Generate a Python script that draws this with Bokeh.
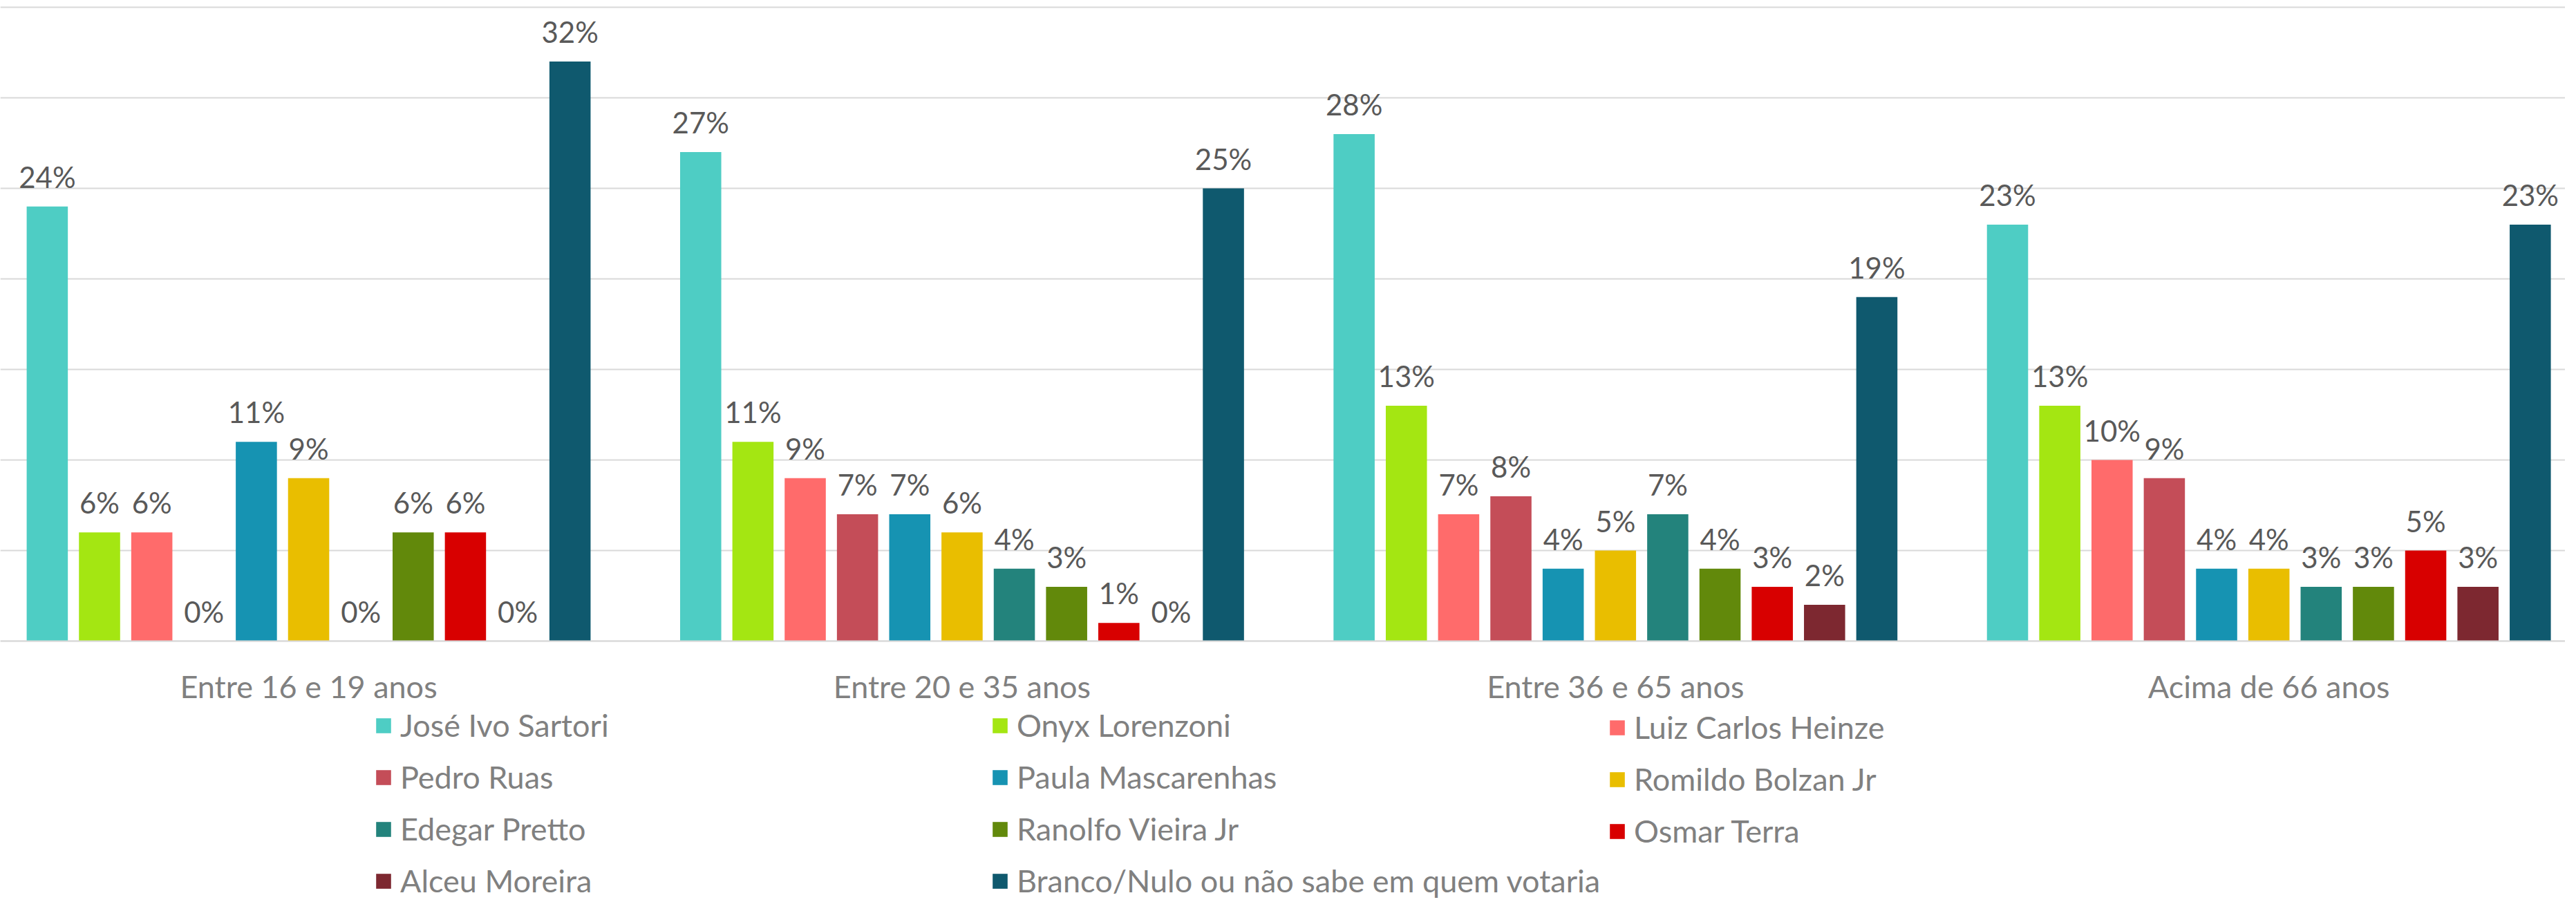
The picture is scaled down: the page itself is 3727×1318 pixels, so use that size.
from bokeh.plotting import figure
from bokeh.models import ColumnDataSource, Range1d, FixedTicker, Legend, LegendItem
from bokeh.core.properties import value
from bokeh.embed import file_html
from bokeh.resources import INLINE

# ---- data ----
groups = ["Entre 16 e 19 anos", "Entre 20 e 35 anos", "Entre 36 e 65 anos", "Acima de 66 anos"]
candidates = ["José Ivo Sartori", "Onyx Lorenzoni", "Luiz Carlos Heinze", "Pedro Ruas",
              "Paula Mascarenhas", "Romildo Bolzan Jr", "Edegar Pretto", "Ranolfo Vieira Jr",
              "Osmar Terra", "Alceu Moreira", "Branco/Nulo ou não sabe em quem votaria"]
jose_ivo_sartori = [24, 27, 28, 23]
onyx_lorenzoni = [6, 11, 13, 13]
luiz_carlos_heinze = [6, 9, 7, 10]
pedro_ruas = [0, 7, 8, 9]
paula_mascarenhas = [11, 7, 4, 4]
romildo_bolzan_jr = [9, 6, 5, 4]
edegar_pretto = [0, 4, 7, 3]
ranolfo_vieira_jr = [6, 3, 4, 3]
osmar_terra = [6, 1, 3, 5]
alceu_moreira = [0, 0, 2, 3]
branco_nulo = [32, 25, 19, 23]
grid_ticks = [0, 5, 10, 15, 20, 25, 30, 35]

series = [jose_ivo_sartori, onyx_lorenzoni, luiz_carlos_heinze, pedro_ruas,
          paula_mascarenhas, romildo_bolzan_jr, edegar_pretto, ranolfo_vieira_jr,
          osmar_terra, alceu_moreira, branco_nulo]
colors = ["#4ECDC4", "#A4E612", "#FF6B6B", "#C44D58", "#1693B2", "#E9BE00",
          "#23837C", "#62890B", "#D80000", "#7D2830", "#0F596E"]

# ---- layout constants ----
STEP = 0.08
BAR_W = 0.063
FONT = value("Lato")
W, H = 3711, 1302

p = figure(width=W, height=H, output_backend="svg", toolbar_location=None,
           x_range=Range1d(0.0282, 3.9536), y_range=Range1d(-14.313, 35.382),
           min_border_left=0, min_border_right=0, min_border_top=0, min_border_bottom=0)
p.outline_line_color = None
p.background_fill_color = "white"
p.border_fill_color = "white"

p.yaxis.visible = False
p.xgrid.visible = False
p.ygrid.ticker = FixedTicker(ticks=grid_ticks)
p.ygrid.grid_line_color = "#D9D9D9"
p.ygrid.grid_line_width = 2

xa = p.xaxis[0]
xa.fixed_location = 0
xa.ticker = FixedTicker(ticks=[i + 0.5 for i in range(len(groups))])
xa.major_label_overrides = {i + 0.5: g for i, g in enumerate(groups)}
xa.major_tick_line_color = None
xa.minor_tick_line_color = None
xa.major_tick_out = 0
xa.major_tick_in = 0
xa.axis_line_color = "#D9D9D9"
xa.axis_line_width = 2
xa.major_label_text_font = "Lato"
xa.major_label_text_font_size = "45px"
xa.major_label_text_color = "#808080"
xa.major_label_standoff = 38

n = len(series)
items = []
for j, (name, vals, col) in enumerate(zip(candidates, series, colors)):
    xs = [g + 0.5 + (j - (n - 1) / 2) * STEP for g in range(len(groups))]
    src = ColumnDataSource(dict(x=xs, top=vals, lab=[f"{v}%" for v in vals]))
    r = p.vbar(x="x", top="top", width=BAR_W, source=src, fill_color=col, line_color=None)
    p.text(x="x", y="top", text="lab", source=src, text_align="center",
           text_baseline="alphabetic", y_offset=-43, text_font=FONT,
           text_font_size="42px", text_color="#595959")
    items.append(LegendItem(label=name, renderers=[r]))

# legend: three columns, filled row by row
col_x = [541, 1433, 2326]
for c in range(3):
    lg = Legend(items=items[c::3], orientation="vertical",
                location=(col_x[c], 1 + (72 if c == 2 else 0)), margin=0, padding=0,
                border_line_color=None, background_fill_alpha=0,
                glyph_width=27, glyph_height=27, label_standoff=11,
                label_height=50, spacing=21,
                label_text_font="Lato", label_text_font_size="45px",
                label_text_color="#808080")
    p.add_layout(lg)

open("out.html", "w").write(file_html(p, INLINE))
